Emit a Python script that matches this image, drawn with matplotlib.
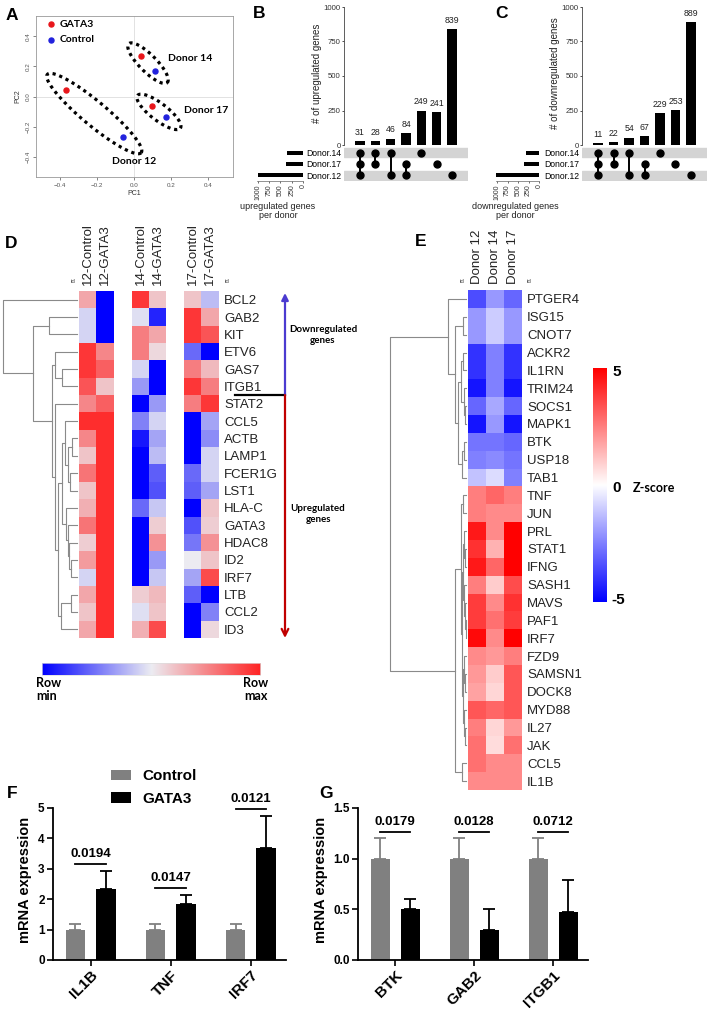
import numpy as np
import matplotlib
matplotlib.use('Agg')
import matplotlib.pyplot as plt
from matplotlib.colors import LinearSegmentedColormap

plt.rcParams['font.family'] = ['Liberation Sans', 'DejaVu Sans']

# ---------------- data ----------------
# A: PCA
pca_donors = ['Donor 12', 'Donor 14', 'Donor 17']
pc1_gata3 = [-0.369, 0.036, 0.096]
pc2_gata3 = [0.046, 0.270, -0.064]
pc1_control = [-0.061, 0.115, 0.173]
pc2_control = [-0.268, 0.173, -0.136]

# B / C: upset
upset_sets = ['Donor.14', 'Donor.17', 'Donor.12']
upset_members = [[0, 1, 2], [0, 1], [0, 2], [1, 2], [0], [1], [2]]
up_counts = [31, 28, 46, 84, 249, 241, 839]
down_counts = [11, 22, 54, 67, 229, 253, 889]

# D: heatmap (row-scaled)
heat_d_cols = ['12-Control', '12-GATA3', '14-Control', '14-GATA3', '17-Control', '17-GATA3']
heat_d_genes = ['BCL2', 'GAB2', 'KIT', 'ETV6', 'GAS7', 'ITGB1', 'STAT2', 'CCL5', 'ACTB', 'LAMP1',
                'FCER1G', 'LST1', 'HLA-C', 'GATA3', 'HDAC8', 'ID2', 'IRF7', 'LTB', 'CCL2', 'ID3']
heat_d_values = [
    [0.35, -1.0, 0.9, 0.2, 0.2, -0.2],
    [-0.1, -1.0, -0.05, -0.85, 0.9, 0.35],
    [-0.1, -1.0, 0.55, 0.35, 0.9, 0.75],
    [0.9, 0.5, 0.55, 0.1, -0.55, -1.0],
    [0.9, 0.7, -0.1, -1.0, 0.55, 0.25],
    [0.75, 0.2, -0.35, -1.0, 0.9, 0.55],
    [0.5, 0.7, -1.0, -0.35, 0.55, 0.9],
    [0.95, 0.95, -0.45, -0.1, -1.0, -0.3],
    [0.5, 0.95, -0.9, -0.3, -1.0, -0.4],
    [0.2, 0.95, -1.0, -0.2, -1.0, -0.1],
    [0.6, 0.95, -1.0, -0.6, -0.55, -0.1],
    [0.2, 0.95, -1.0, -0.65, -0.6, -0.3],
    [0.3, 0.95, -0.55, -0.15, -1.0, 0.2],
    [0.6, 0.95, -1.0, 0.15, -0.65, 0.15],
    [0.15, 0.95, -1.0, 0.45, -0.5, 0.45],
    [0.4, 0.95, -1.0, -0.35, 0.0, 0.2],
    [-0.1, 0.95, -1.0, -0.15, -0.3, 0.8],
    [0.35, 0.95, 0.15, 0.25, -0.6, -1.0],
    [0.2, 0.95, -0.05, 0.2, -1.0, -0.45],
    [0.35, 0.95, 0.3, 0.8, -1.0, 0.1],
]
# dendrogram: (height, left, right)
tree_d = (74, 'BCL2',
          (44, (28, 'GAB2', 'KIT'),
           (25, (22, 'ETV6', (15, 'GAS7', 'ITGB1')),
            (22, 'STAT2',
             (19, (15, (12, 'CCL5', (9, (5, 'ACTB', 'LAMP1'), (7, 'FCER1G', 'LST1'))),
                   (11, 'HLA-C', (9, 'GATA3', (8, 'HDAC8', (6, 'ID2', 'IRF7'))))),
              (16, (6, 'LTB', 'CCL2'), 'ID3'))))))

# E: z-score heatmap
heat_e_cols = ['Donor 12', 'Donor 14', 'Donor 17']
heat_e_genes = ['PTGER4', 'ISG15', 'CNOT7', 'ACKR2', 'IL1RN', 'TRIM24', 'SOCS1', 'MAPK1', 'BTK',
                'USP18', 'TAB1', 'TNF', 'JUN', 'PRL', 'STAT1', 'IFNG', 'SASH1', 'MAVS', 'PAF1',
                'IRF7', 'FZD9', 'SAMSN1', 'DOCK8', 'MYD88', 'IL27', 'JAK', 'CCL5', 'IL1B']
heat_e_values = [
    [-3.5, -2.0, -3.0], [-2.0, -1.0, -2.0], [-2.0, -1.0, -2.0], [-4.0, -2.5, -4.0],
    [-4.0, -2.5, -4.0], [-4.6, -2.5, -4.6], [-3.0, -1.7, -3.0], [-4.6, -2.0, -4.6],
    [-2.7, -2.7, -3.0], [-2.5, -2.3, -2.7], [-1.2, -0.7, -2.5], [2.5, 3.0, 2.5],
    [2.5, 2.3, 2.3], [4.5, 2.3, 5.0], [4.0, 1.5, 5.0], [4.5, 3.0, 5.0],
    [2.5, 1.0, 3.5], [3.8, 2.3, 4.0], [3.8, 2.8, 3.8], [4.8, 2.3, 5.0],
    [2.3, 2.0, 2.5], [2.0, 1.0, 3.3], [1.8, 0.8, 3.3], [3.3, 3.0, 3.3],
    [2.5, 0.8, 2.0], [2.8, 0.7, 2.8], [2.8, 2.3, 2.3], [2.3, 2.3, 2.3],
]
tree_e = (76,
          (18, 'PTGER4',
           (11, (3, 'ISG15', 'CNOT7'),
            (8, (5, (3, 'ACKR2', 'IL1RN'), (2, 'TRIM24', (1, 'SOCS1', 'MAPK1'))),
             (4, (2, 'BTK', 'USP18'), 'TAB1')))),
          (11, (5, (3, 'TNF', 'JUN'),
                (4, (3, (2, 'PRL', (1, 'STAT1', 'IFNG')), (2, 'SASH1', (1, 'MAVS', (0.5, 'PAF1', 'IRF7')))),
                 (3, (2, 'FZD9', (1, 'SAMSN1', 'DOCK8')), (2, 'MYD88', (1, 'IL27', 'JAK'))))),
           (4, 'CCL5', 'IL1B')))

# F / G: qPCR
f_genes = ['IL1B', 'TNF', 'IRF7']
f_ctrl = [1.0, 1.0, 1.0]
f_ctrl_err = [0.2, 0.2, 0.2]
f_gata3 = [2.34, 1.83, 3.69]
f_gata3_err = [0.59, 0.31, 1.05]
f_pvals = ['0.0194', '0.0147', '0.0121']

g_genes = ['BTK', 'GAB2', 'ITGB1']
g_ctrl = [1.0, 1.0, 1.0]
g_ctrl_err = [0.2, 0.2, 0.2]
g_gata3 = [0.50, 0.30, 0.47]
g_gata3_err = [0.10, 0.20, 0.32]
g_pvals = ['0.0179', '0.0128', '0.0712']

# ---------------- layout ----------------
W, H = 709, 1010
fig = plt.figure(figsize=(W / 100, H / 100), dpi=100)


def px_axes(l, t, r, b):
    return fig.add_axes([l / W, 1 - b / H, (r - l) / W, (b - t) / H])


ov = fig.add_axes([0, 0, 1, 1], zorder=10)
ov.set_xlim(0, W)
ov.set_ylim(H, 0)
ov.axis('off')

for letter, (lx, ly) in zip('ABCDEFG', [(12, 15), (259, 13), (502, 13), (11, 243),
                                         (421, 242), (12, 793), (326, 793)]):
    ov.text(lx, ly, letter, fontsize=12.5, fontweight='bold', ha='center', va='center')

# ---- A ----
axA = px_axes(36, 16, 233, 177)
axA.set_xlim(-0.53, 0.535)
axA.set_ylim(-0.53, 0.533)
axA.axhline(0, color='#dddddd', lw=0.6, zorder=0)
axA.axvline(0, color='#dddddd', lw=0.6, zorder=0)
axA.scatter(pc1_gata3, pc2_gata3, s=13, color='#e8161b', zorder=3, label='GATA3')
axA.scatter(pc1_control, pc2_control, s=13, color='#2222dd', zorder=3, label='Control')
ell_pad = [24, 17, 18]
ell_minor = [12, 8.5, 8.5]
t = np.linspace(0, 2 * np.pi, 300)
for i in range(3):
    p1 = axA.transData.transform((pc1_gata3[i], pc2_gata3[i]))
    p2 = axA.transData.transform((pc1_control[i], pc2_control[i]))
    c = (p1 + p2) / 2
    d = p2 - p1
    L = np.hypot(*d)
    u = d / L
    v = np.array([-u[1], u[0]])
    pts = c + np.outer((L / 2 + ell_pad[i]) * np.cos(t), u) + np.outer(ell_minor[i] * np.sin(t), v)
    dp = axA.transData.inverted().transform(pts)
    axA.plot(dp[:, 0], dp[:, 1], color='k', lw=2.3, ls=(0, (1, 1.2)), dash_capstyle='butt')
lab_kw = dict(fontsize=7.5, fontweight='bold', family=['Lato', 'DejaVu Sans'])
axA.text(0.185, 0.25, 'Donor 14', ha='left', va='center', **lab_kw)
axA.text(0.27, -0.09, 'Donor 17', ha='left', va='center', **lab_kw)
axA.text(0.0, -0.43, 'Donor 12', ha='center', va='center', **lab_kw)
axA.legend(loc='upper left', bbox_to_anchor=(0.02, 1.03), frameon=False, handlelength=0.6,
           handletextpad=0.5, labelspacing=0.6, borderpad=0.3,
           prop=dict(size=7.5, weight='bold', family=['Lato', 'DejaVu Sans']))
axA.set_xticks([-0.4, -0.2, 0.0, 0.2, 0.4])
axA.set_yticks([-0.4, -0.2, 0.0, 0.2, 0.4])
axA.tick_params(labelsize=4.5, length=2, width=0.5, colors='#555555', pad=2)
axA.tick_params(axis='y', labelrotation=90)
for lab in axA.get_yticklabels():
    lab.set_va('center')
axA.set_xlabel('PC1', fontsize=5, labelpad=2, color='#333333')
axA.set_ylabel('PC2', fontsize=5, labelpad=3, color='#333333')
for s in axA.spines.values():
    s.set_color('#999999')
    s.set_linewidth(0.6)


# ---- B / C ----
def upset(bar_l, bar_r, set_l, set_r, set_max, counts, ylabel, setlabel):
    n = len(counts)
    xl = (-1.04, n + 0.04)
    axb = px_axes(bar_l, 7, bar_r, 145)
    x = np.arange(n)
    axb.bar(x, counts, width=0.6, color='k')
    for xi, cnt in zip(x, counts):
        axb.annotate(str(cnt), (xi, cnt), xytext=(0, 3), textcoords='offset points',
                     ha='center', va='bottom', fontsize=6.3, color='#222222')
    axb.set_xlim(*xl)
    axb.set_ylim(0, 1000)
    axb.set_yticks([0, 250, 500, 750, 1000])
    axb.set_xticks([])
    axb.tick_params(axis='y', labelsize=5.6, length=1.5, width=0.6, pad=1, colors='#333333')
    for k in ('top', 'right', 'bottom'):
        axb.spines[k].set_visible(False)
    axb.spines['left'].set_linewidth(0.6)
    axb.spines['left'].set_color('#444444')
    axb.set_ylabel(ylabel, fontsize=7, color='#222222')
    axb.yaxis.set_label_coords(-22 / (bar_r - bar_l), 0.52)

    axm = px_axes(bar_l, 147, bar_r, 181)
    axm.set_xlim(*xl)
    axm.set_ylim(2.5, -0.5)
    for r in (0, 2):
        axm.axhspan(r - 0.42, r + 0.42, color='#d4d4d4', zorder=0)
    for xi, mem in enumerate(upset_members):
        axm.plot([xi, xi], [min(mem), max(mem)], color='k', lw=1.4, zorder=2)
        axm.plot([xi] * len(mem), mem, 'o', color='k', ms=5, zorder=3)
    axm.set_xticks([])
    axm.set_yticks(range(3), upset_sets)
    axm.tick_params(axis='y', length=0, pad=2, labelsize=6.2)
    for s in axm.spines.values():
        s.set_visible(False)

    sizes = [sum(c for c, mem in zip(counts, upset_members) if r in mem) for r in range(3)]
    axs = px_axes(set_l, 147, set_r, 181)
    axs.barh(range(3), sizes, height=0.38, color='k')
    axs.set_xlim(set_max, 0)
    axs.set_ylim(2.5, -0.5)
    axs.set_yticks([])
    axs.set_xticks([1000, 750, 500, 250, 0])
    axs.tick_params(axis='x', labelsize=5, length=1.5, width=0.5, pad=1, labelrotation=90,
                    colors='#333333')
    for k in ('top', 'right', 'left'):
        axs.spines[k].set_visible(False)
    axs.spines['bottom'].set_linewidth(0.5)
    axs.spines['bottom'].set_color('#666666')
    ov.text((set_l + set_r) / 2 - 2, 211, setlabel, ha='center', va='center', fontsize=6.5,
            linespacing=1.0, color='#222222')


upset(344, 468, 257, 303, 1020, up_counts, '# of upregulated genes',
      'upregulated genes\nper donor')
upset(582, 707, 496, 539, 1025, down_counts, '# of downregulated genes',
      'downregulated genes\nper donor')


# ---- dendrogram helper ----
def draw_tree(ax, node, pos):
    if isinstance(node, str):
        return 0.0, pos[node]
    h, a, b = node
    ha_, ya = draw_tree(ax, a, pos)
    hb, yb = draw_tree(ax, b, pos)
    ax.plot([ha_, h, h, hb], [ya, ya, yb, yb], color='#8a8a8a', lw=0.8)
    return h, (ya + yb) / 2


# ---- D ----
cmap_d = LinearSegmentedColormap.from_list('rowminmax', ['#0000ff', '#ececf2', '#ff2424'])
d_vals = np.array(heat_d_values)
nd = len(heat_d_genes)
groups = [(79, 114), (132, 166), (184, 219)]
for g, (l, r) in enumerate(groups):
    ax = px_axes(l, 291, r, 638)
    ax.imshow(d_vals[:, 2 * g:2 * g + 2], cmap=cmap_d, vmin=-1, vmax=1, aspect='auto',
              interpolation='nearest')
    ax.xaxis.tick_top()
    ax.set_xticks([0, 1], heat_d_cols[2 * g:2 * g + 2], rotation=90, fontsize=9.5, color='#222222')
    ax.tick_params(axis='x', length=0, pad=4.3)
    ax.set_yticks([])
    for s in ax.spines.values():
        s.set_visible(False)
    if g == 2:
        ax.yaxis.tick_right()
        ax.set_yticks(range(nd), heat_d_genes, fontsize=9.5, color='#222222')
        ax.tick_params(axis='y', length=0, pad=3.6)
axd = px_axes(0, 291, 79, 638)
draw_tree(axd, tree_d, {gname: i + 0.5 for i, gname in enumerate(heat_d_genes)})
axd.set_xlim(77, -2)
axd.set_ylim(nd, 0)
axd.axis('off')
ov.text(73, 284, 'id', fontsize=4.5, ha='center', va='bottom', color='#444444')
ov.text(227, 284, 'id', fontsize=4.5, ha='center', va='bottom', color='#444444')

# arrows
split_y = 291 + 6 * (638 - 291) / nd
ov.plot([235, 285], [split_y, split_y], color='k', lw=1.6)
ov.annotate('', xy=(285, 293), xytext=(285, split_y),
            arrowprops=dict(arrowstyle='-|>', color='#4b3bd0', lw=1.6, mutation_scale=10,
                            shrinkA=0, shrinkB=0))
ov.annotate('', xy=(285, 638), xytext=(285, split_y),
            arrowprops=dict(arrowstyle='->', color='#c00000', lw=1.6, mutation_scale=12,
                            shrinkA=0, shrinkB=0))
note_kw = dict(fontsize=7, fontweight='bold', family=['Lato', 'DejaVu Sans'], ha='center',
               va='center', linespacing=1.3)
ov.text(323, 335, 'Downregulated\ngenes', **note_kw)
ov.text(318, 514, 'Upregulated\ngenes', **note_kw)

axcd = px_axes(42, 663, 260, 675)
axcd.imshow(np.linspace(-1, 1, 256)[None, :], cmap=cmap_d, aspect='auto')
axcd.set_xticks([])
axcd.set_yticks([])
for s in axcd.spines.values():
    s.set_color('#dddddd')
    s.set_linewidth(0.5)
rm_kw = dict(fontsize=9, fontweight='bold', family=['Lato', 'DejaVu Sans'], va='top',
             linespacing=1.15)
ov.text(36, 677, 'Row\nmin', ha='left', **rm_kw)
ov.text(268, 677, 'Row\nmax', ha='right', **rm_kw)

# ---- E ----
cmap_e = LinearSegmentedColormap.from_list('z', ['#0000ff', '#ffffff', '#ff0000'])
e_vals = np.array(heat_e_values)
ne = len(heat_e_genes)
axe = px_axes(468, 290, 522, 790)
axe.imshow(e_vals, cmap=cmap_e, vmin=-5, vmax=5, aspect='auto', interpolation='nearest')
axe.xaxis.tick_top()
axe.set_xticks(range(3), heat_e_cols, rotation=90, fontsize=9.5, color='#222222')
axe.tick_params(axis='x', length=0, pad=4)
axe.yaxis.tick_right()
axe.set_yticks(range(ne), heat_e_genes, fontsize=9.5, color='#222222')
axe.tick_params(axis='y', length=0, pad=3.6)
for s in axe.spines.values():
    s.set_visible(False)
axde = px_axes(385, 290, 468, 790)
draw_tree(axde, tree_e, {gname: i + 0.5 for i, gname in enumerate(heat_e_genes)})
axde.set_xlim(81, -2)
axde.set_ylim(ne, 0)
axde.axis('off')
ov.text(462, 284, 'id', fontsize=4.5, ha='center', va='bottom', color='#444444')
ov.text(529, 284, 'id', fontsize=4.5, ha='center', va='bottom', color='#444444')

axce = px_axes(593, 368, 607, 602)
axce.imshow(np.linspace(5, -5, 256)[:, None], cmap=cmap_e, vmin=-5, vmax=5, aspect='auto')
axce.axis('off')
ov.text(612, 372, '5', fontsize=11, fontweight='bold', ha='left', va='center')
ov.text(612, 488, '0', fontsize=11, fontweight='bold', ha='left', va='center')
ov.text(611, 600, '-5', fontsize=11, fontweight='bold', ha='left', va='center')
ov.text(633, 488, 'Z-score', fontsize=9, fontweight='bold', family=['Lato', 'DejaVu Sans'],
        ha='left', va='center')


# ---- F / G ----
def qpcr(l, r, genes, ctrl, ctrl_err, gata, gata_err, pvals, ymax, yticks, ylab_x, legend):
    ax = px_axes(l, 808, r, 960)
    x = np.arange(len(genes))
    off, w = 0.19, 0.243
    zeros = np.zeros(len(genes))
    ax.bar(x - off, ctrl, w, color='#808080', label='Control')
    ax.bar(x + off, gata, w, color='k', label='GATA3')
    ax.errorbar(x - off, ctrl, yerr=[zeros, ctrl_err], fmt='none', ecolor='#808080',
                elinewidth=1.3, capsize=4, capthick=1.3)
    ax.errorbar(x + off, gata, yerr=[zeros, gata_err], fmt='none', ecolor='k',
                elinewidth=1.3, capsize=4, capthick=1.3)
    for i in range(len(genes)):
        top = max(ctrl[i] + ctrl_err[i], gata[i] + gata_err[i]) + 0.044 * ymax
        ax.plot([x[i] - off, x[i] + off], [top, top], color='k', lw=1.3, clip_on=False)
        ax.annotate(pvals[i], (x[i], top), xytext=(0, 3), textcoords='offset points',
                    ha='center', va='bottom', fontsize=9.5, fontweight='bold')
    ax.set_xlim(-0.47, len(genes) - 1 + 0.44)
    ax.set_ylim(0, ymax)
    ax.set_yticks(yticks)
    ax.set_xticks(x, genes, rotation=45, ha='right', rotation_mode='anchor', fontsize=11,
                  fontweight='bold')
    for lab in ax.get_yticklabels():
        lab.set_fontweight('bold')
    ax.tick_params(axis='y', labelsize=8.5, length=4, width=1.2, pad=2)
    ax.tick_params(axis='x', length=4, width=1.2, pad=2)
    for k in ('top', 'right'):
        ax.spines[k].set_visible(False)
    for k in ('left', 'bottom'):
        ax.spines[k].set_linewidth(1.3)
    ax.set_ylabel('mRNA expression', fontsize=10.5, fontweight='bold')
    ax.yaxis.set_label_coords(ylab_x, 0.53)
    if legend:
        ax.legend(loc='lower left', bbox_to_anchor=(0.215, 0.965), frameon=False,
                  handlelength=1.35, handleheight=0.7, handletextpad=0.75, labelspacing=0.55,
                  borderpad=0, prop=dict(size=11, weight='bold'))
    return ax


qpcr(53, 286, f_genes, f_ctrl, f_ctrl_err, f_gata3, f_gata3_err, f_pvals, 5,
     [0, 1, 2, 3, 4, 5], -0.09, True)
axG = qpcr(358, 588, g_genes, g_ctrl, g_ctrl_err, g_gata3, g_gata3_err, g_pvals, 1.5,
           [0.0, 0.5, 1.0, 1.5], -0.13, False)
axG.set_yticklabels(['0.0', '0.5', '1.0', '1.5'], fontweight='bold')

fig.savefig('out.png', dpi=100)
